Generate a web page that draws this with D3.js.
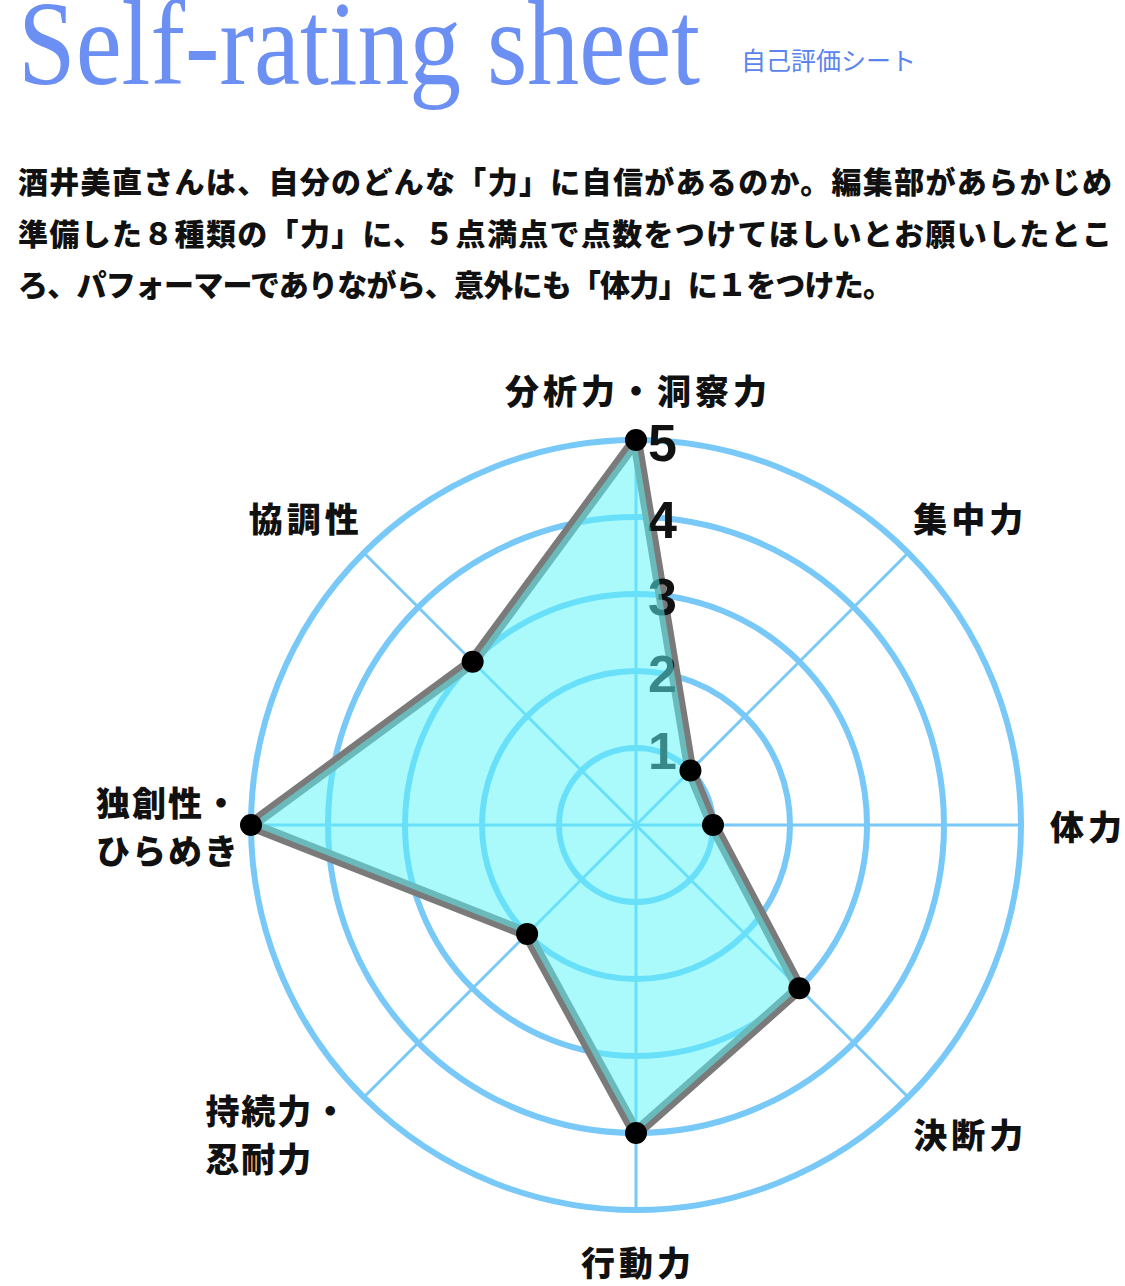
<!DOCTYPE html>
<html lang="ja">
<head>
<meta charset="utf-8">
<script src="https://cdn.jsdelivr.net/npm/d3@7"></script>
<style>
  html, body { margin: 0; padding: 0; background: #fff; }
  svg { display: block; }
  .jp { font-family: "Noto Sans CJK JP", "Noto Sans", sans-serif; }
</style>
</head>
<body>
<svg id="chart"></svg>
<script>
// categories, clockwise from the top
const categories = ["分析力・洞察力", "集中力", "体力", "決断力", "行動力", "持続力・\n忍耐力", "独創性・\nひらめき", "協調性"];
const scores = [5, 1, 1, 3, 4, 2, 5, 3];
const tickValues = [1, 2, 3, 4, 5];

const titleText = "Self-rating sheet";
const subtitleText = "自己評価シート";
const introLines = [
    "酒井美直さんは、自分のどんな「力」に自信があるのか。編集部があらかじめ",
    "準備した８種類の「力」に、５点満点で点数をつけてほしいとお願いしたとこ",
    "ろ、パフォーマーでありながら、意外にも「体力」に１をつけた。"
];

const W = 1125, H = 1286;
const cx = 636, cy = 825;
const maxR = 385;

const svg = d3.select('#chart')
    .attr('width', W)
    .attr('height', H)
    .attr('viewBox', `0 0 ${W} ${H}`);

// ===================================================================
// HEADER
// ===================================================================
// condensed serif: squeeze the natural width with a transform
const title = svg.append('text')
    .attr('x', 0)
    .attr('y', 0)
    .style('font-family', '"Liberation Serif", "DejaVu Serif", serif')
    .style('font-size', '121px')
    .style('fill', '#6b8ff2')
    .text(titleText);
const titleW = title.node().getComputedTextLength();
title.attr('transform', `translate(18,84) scale(${682 / titleW},1)`);

svg.append('text')
    .attr('class', 'jp')
    .attr('x', 741)
    .attr('y', 70)
    .style('font-size', '25px')
    .style('fill', '#5b84ee')
    .text(subtitleText);

const introWidths = [1094, 1094, 875];
svg.append('g')
    .selectAll('text')
    .data(introLines)
    .join('text')
    .attr('class', 'jp')
    .attr('x', 18)
    .attr('y', (d, i) => 180 + i * 51.5)
    .attr('dominant-baseline', 'central')
    .attr('textLength', (d, i) => introWidths[i])
    .attr('lengthAdjust', 'spacing')
    .style('font-size', '30px')
    .style('font-weight', 900)
    .style('fill', '#111')
    .text(d => d);

// ===================================================================
// RADAR
// ===================================================================
const r = d3.scaleLinear().domain([0, 5]).range([0, maxR]);
const angle = d3.scalePoint()
    .domain(d3.range(categories.length))
    .range([0, 2 * Math.PI * (categories.length - 1) / categories.length]);

const radar = svg.append('g').attr('transform', `translate(${cx},${cy})`);
const ringColor = '#78c8f8';

// spokes
radar.append('g')
    .selectAll('line')
    .data(categories.map((d, i) => i))
    .join('line')
    .attr('x1', 0).attr('y1', 0)
    .attr('x2', i => r(5) * Math.sin(angle(i)))
    .attr('y2', i => -r(5) * Math.cos(angle(i)))
    .attr('stroke', ringColor)
    .attr('stroke-width', 3);

// rings
radar.append('g')
    .selectAll('circle')
    .data(tickValues)
    .join('circle')
    .attr('r', d => r(d))
    .attr('fill', 'none')
    .attr('stroke', ringColor)
    .attr('stroke-width', 6);

const radarLine = d3.lineRadial()
    .angle((d, i) => angle(i))
    .radius(d => r(d))
    .curve(d3.curveLinearClosed);

// outline below numbers
radar.append('path')
    .datum(scores)
    .attr('d', radarLine)
    .attr('fill', 'none')
    .attr('stroke', '#7a7a7a')
    .attr('stroke-width', 12)
    .attr('stroke-linejoin', 'round');

// tick numbers
radar.append('g')
    .selectAll('text')
    .data(tickValues)
    .join('text')
    .attr('x', 12)
    .attr('y', d => -r(d) + 3)
    .attr('dominant-baseline', 'central')
    .style('font-family', '"Liberation Sans", Arial, sans-serif')
    .style('font-size', '52px')
    .style('font-weight', 700)
    .style('fill', '#111')
    .text(d => d);

// translucent fill over numbers
radar.append('path')
    .datum(scores)
    .attr('d', radarLine)
    .attr('fill', '#5cf6fa')
    .attr('fill-opacity', 0.52)
    .attr('stroke', 'none');

// dots
radar.append('g')
    .selectAll('circle')
    .data(scores)
    .join('circle')
    .attr('cx', (d, i) => r(d) * Math.sin(angle(i)))
    .attr('cy', (d, i) => -r(d) * Math.cos(angle(i)))
    .attr('r', 11)
    .attr('fill', '#000');

// axis labels
const labelRx = 470, labelRy = 436, lineH = 48;
const labels = svg.append('g').attr('class', 'jp');

categories.forEach((name, i) => {
    const lines = name.split('\n');
    const a = angle(i);
    const px = cx + labelRx * Math.sin(a);
    const py = cy - labelRy * Math.cos(a);

    const t = labels.append('text')
        .style('font-size', '34px')
        .style('font-weight', 900)
        .style('letter-spacing', lines.length > 1 ? '2px' : '4px')
        .style('fill', '#111')
        .attr('dominant-baseline', 'central');

    lines.forEach((ln, j) => {
        t.append('tspan')
            .attr('y', py - (lines.length - 1) * lineH / 2 + j * lineH)
            .text(ln);
    });

    // lay out as a block centred on (px, py), kept inside the page;
    // two-line blocks sit a little further out on the diagonals
    const w = d3.max(t.selectAll('tspan').nodes(), n => n.getComputedTextLength()) - 4;
    let left = px - w / 2;
    if (lines.length > 1) left -= 40 * Math.abs(Math.cos(a));
    left = Math.min(left, W - 3 - w);
    left = Math.max(left, 3);
    t.selectAll('tspan').attr('x', left);
});
</script>
</body>
</html>
